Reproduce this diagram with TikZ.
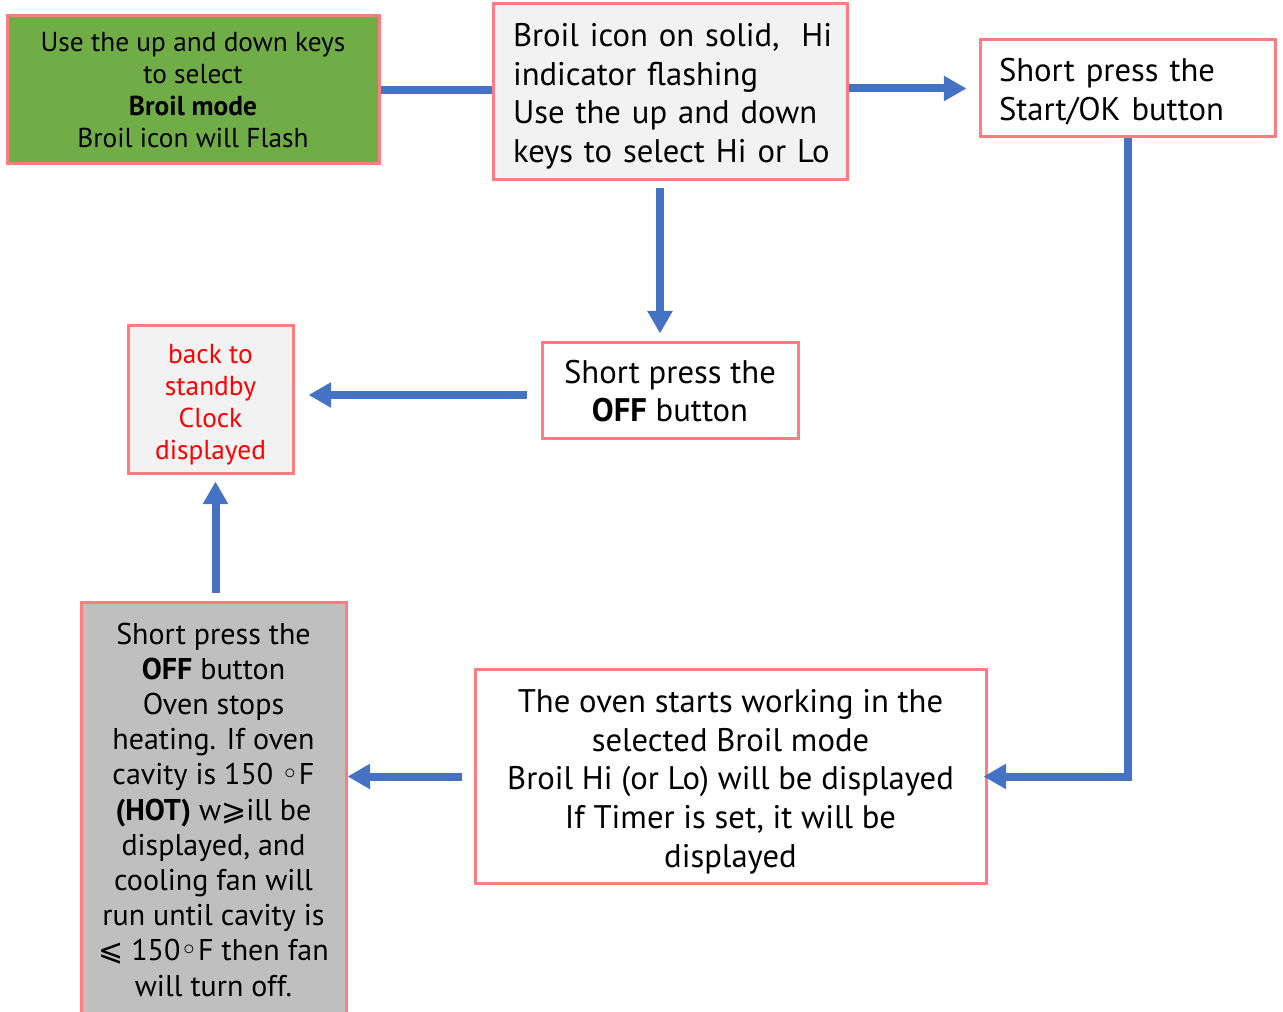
\documentclass[tikz,border=0pt]{standalone}
\usepackage{fontspec}
\setmainfont{PT Sans}
\newfontfamily\symfont{DejaVu Sans}
\usetikzlibrary{arrows.meta}

\definecolor{linkblue}{HTML}{4472C4}
\definecolor{edgepink}{HTML}{FF7C80}
\definecolor{leafgreen}{HTML}{70AD47}
\definecolor{panelgrey}{HTML}{F2F2F2}
\definecolor{hotgrey}{HTML}{BFBFBF}

\tikzset{
  stepbox/.style={draw=edgepink, line width=2.25pt, inner sep=0pt, align=center},
  boxsize/.style 2 args={minimum width=#1*0.75pt, minimum height=#2*0.75pt},
  bigtext/.style={font=\fontsize{24.5}{29}\selectfont},
  midtext/.style={font=\fontsize{22.5}{26.4}\selectfont},
  smalltext/.style={font=\fontsize{20.5}{24}\selectfont},
  flow/.style={draw=linkblue, line width=6pt, -{Triangle[length=17pt,width=18pt]}},
}

\begin{document}
\begin{tikzpicture}[x=0.75pt,y=-0.75pt]
    \useasboundingbox (0,0) rectangle (1283,1012);

    % top row
    \node[stepbox, smalltext, boxsize={372}{148}, fill=leafgreen] (choose) at (193,90)
        {Use the up and down keys\\ to select\\ \textbf{Broil mode}\\ Broil icon will Flash};
    \node[stepbox, bigtext, boxsize={354}{176}, fill=panelgrey, align=left, text width=235.5pt] (level) at (670,92)
        {\rule{0pt}{24pt}\mbox{Broil icon on solid,\ \ Hi}\\ \mbox{indicator flashing}\\ \mbox{Use the up and down}\\
         \mbox{keys to select Hi or Lo}};
    \node[stepbox, bigtext, boxsize={295}{97}, align=left, text width=192.75pt] (start) at (1127.5,88.5)
        {\rule{0pt}{22pt}\mbox{Short press the}\\ \mbox{Start/OK button}};

    % middle row
    \node[stepbox, bigtext, boxsize={256}{96}] (off) at (670,391)
        {Short press the\\ \textbf{OFF} button};
    \node[stepbox, smalltext, boxsize={165}{148}, fill=panelgrey, text=red] (standby) at (210.5,400)
        {\rule{0pt}{21pt}back to\\ standby\\ Clock\\ displayed};

    % bottom row
    \node[stepbox, bigtext, boxsize={511}{213}] (oven) at (730.5,776.5)
        {\rule{0pt}{25pt}The oven starts working in the\\ selected Broil mode\\ Broil Hi (or Lo) will be displayed\\
         If Timer is set, it will be\\ displayed};
    \node[stepbox, midtext, boxsize={265}{413}, fill=hotgrey] (hot) at (213.5,809.5)
        {Short press the\\ \textbf{OFF} button\\ Oven stops\\ heating. If oven\\
         cavity is 150 {\symfont ◦}F\\ \textbf{(HOT)} w{\symfont ⩾}ill be\\ displayed, and\\
         cooling fan will\\ run until cavity is\\ {\symfont ⩽} 150{\symfont ◦}F then fan\\ will turn off.};

    % connectors
    \coordinate (offexit) at ([yshift=-3pt]off.west);
    \coordinate (levelexit) at ([xshift=-7.5pt]level.south);
    \coordinate (hotexit) at ([xshift=1.5pt]hot.north);
    \draw[flow, -] (choose.east) -- (level.west |- choose.east);
    \draw[flow, shorten >=9pt] (level.east |- start.west) -- (start.west);
    \draw[flow, shorten <=5pt, shorten >=6pt] (levelexit) -- (levelexit |- off.north);
    \draw[flow, shorten <=10pt, shorten >=10.5pt] (offexit) -- (standby.east |- offexit);
    \draw[flow, shorten >=-3pt] (start.south) |- (oven.east);
    \draw[flow, shorten <=9pt] (oven.west) -- (hot.east |- oven.west);
    \draw[flow, shorten <=6pt, shorten >=4.5pt] (hotexit) -- (hotexit |- standby.south);
\end{tikzpicture}
\end{document}
